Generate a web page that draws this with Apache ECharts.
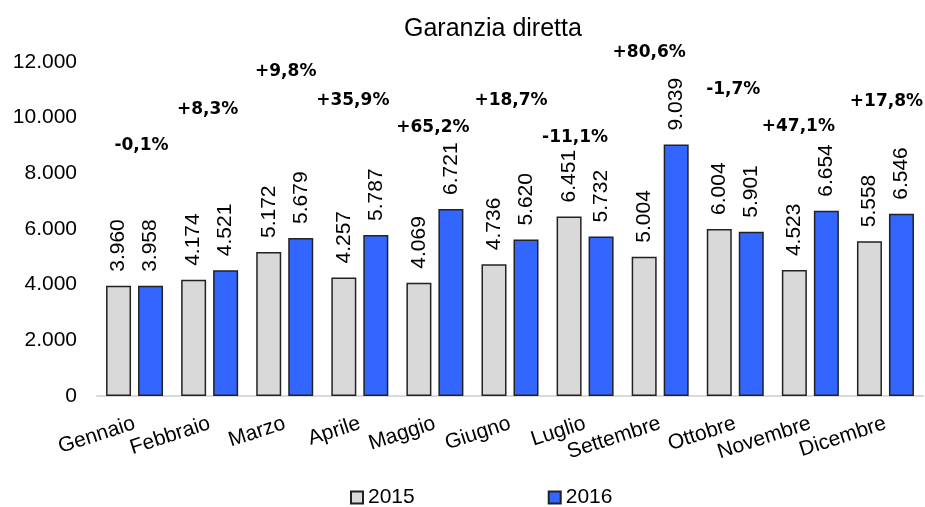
<!DOCTYPE html>
<html>
<head>
<meta charset="utf-8">
<script src="https://cdn.jsdelivr.net/npm/echarts@6/dist/echarts.min.js"></script>
<style>
  html, body { margin: 0; padding: 0; background: #fff; }
  #chart { width: 925px; height: 507px; }
</style>
</head>
<body>
<div id="chart"></div>
<script>
// dati
const months = ['Gennaio', 'Febbraio', 'Marzo', 'Aprile', 'Maggio', 'Giugno', 'Luglio', 'Settembre', 'Ottobre', 'Novembre', 'Dicembre']
const values2015 = [3960, 4174, 5172, 4257, 4069, 4736, 6451, 5004, 6004, 4523, 5558]
const values2016 = [3958, 4521, 5679, 5787, 6721, 5620, 5732, 9039, 5901, 6654, 6546]
const pctChange = ['-0,1%', '+8,3%', '+9,8%', '+35,9%', '+65,2%', '+18,7%', '-11,1%', '+80,6%', '-1,7%', '+47,1%', '+17,8%']
// altezza (in unità dell'asse) a cui stanno le etichette di variazione
const pctLabelLevel = [9000, 10300, 11650, 10610, 9650, 10610, 9280, 12350, 11000, 9680, 10580]
const yTicks = [0, 2000, 4000, 6000, 8000, 10000, 12000]

// spostamento orizzontale (px) delle etichette di variazione, come nell'originale
const pctShiftX = [7, -2, 1, -7, -2, 1, -10, -11, -2, -12, 1]

const fmt = v => String(v).replace(/\B(?=(\d{3})+(?!\d))/g, '.')

const chart = echarts.init(document.getElementById('chart'))

const barLabel = {
  show: true,
  position: 'top',
  rotate: 90,
  align: 'left',
  verticalAlign: 'middle',
  distance: 14,
  fontFamily: 'Liberation Sans',
  fontSize: 21,
  color: '#000',
  formatter: p => fmt(p.value)
}

chart.setOption({
  animation: false,
  title: {
    text: 'Garanzia diretta',
    left: 399,
    top: 12,
    textStyle: { fontFamily: 'Liberation Sans', fontSize: 25, fontWeight: 'normal', color: '#000' }
  },
  legend: {
    data: ['2015', '2016'],
    left: 345,
    top: 482,
    icon: 'rect',
    itemWidth: 12,
    itemHeight: 12,
    itemGap: 133,
    textStyle: { fontFamily: 'Liberation Sans', fontSize: 21, color: '#000' }
  },
  grid: { left: 97, right: 2, top: 62, bottom: 111 },
  xAxis: {
    type: 'category',
    data: months,
    axisLine: { lineStyle: { color: '#d9d9d9', width: 2 } },
    axisTick: { show: false },
    axisLabel: {
      interval: 0,
      rotate: 18,
      margin: 27,
      fontFamily: 'Liberation Sans',
      fontSize: 21,
      color: '#000'
    }
  },
  yAxis: {
    type: 'value',
    min: yTicks[0],
    max: yTicks[yTicks.length - 1],
    interval: 2000,
    splitLine: { show: false },
    axisLine: { show: false },
    axisTick: { show: false },
    axisLabel: {
      margin: 20,
      fontFamily: 'Liberation Sans',
      fontSize: 21,
      color: '#000',
      formatter: v => fmt(v)
    }
  },
  series: [
    {
      name: '2015',
      type: 'bar',
      data: values2015,
      barWidth: 25,
      barGap: '28%',
      itemStyle: { color: '#d9d9d9', borderColor: '#222', borderWidth: 1.5 },
      label: barLabel
    },
    {
      name: '2016',
      type: 'bar',
      data: values2016,
      barWidth: 25,
      itemStyle: { color: '#3366ff', borderColor: '#222', borderWidth: 1.5 },
      label: barLabel
    },
    {
      name: 'variazione',
      type: 'scatter',
      data: pctLabelLevel.map((v, i) => ({ value: v, label: { offset: [pctShiftX[i], 0] } })),
      symbolSize: 0,
      clip: false,
      silent: true,
      itemStyle: { opacity: 1 },
      label: {
        show: true,
        position: 'inside',
        fontFamily: 'DejaVu Sans',
        fontWeight: 'bold',
        fontSize: 17,
        color: '#000',
        formatter: p => pctChange[p.dataIndex]
      }
    }
  ]
})
</script>
</body>
</html>
